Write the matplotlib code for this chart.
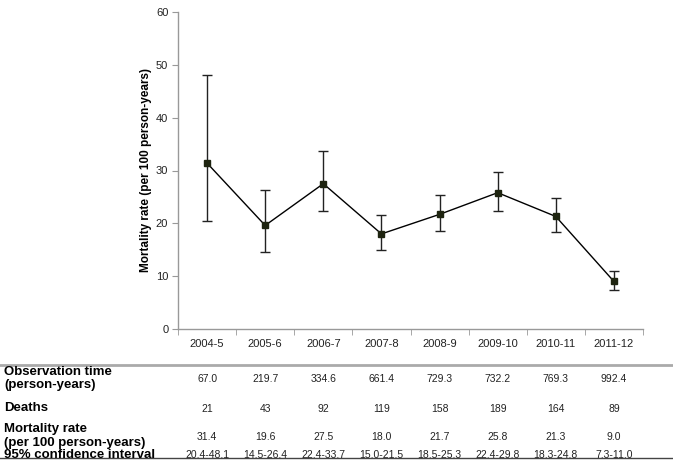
import matplotlib
matplotlib.use("Agg")
import matplotlib.pyplot as plt
import matplotlib.transforms as mtransforms

plt.rcParams['font.family'] = ['Liberation Sans', 'DejaVu Sans']

periods = ["2004-5", "2005-6", "2006-7", "2007-8", "2008-9", "2009-10", "2010-11", "2011-12"]
rate = [31.4, 19.6, 27.5, 18.0, 21.7, 25.8, 21.3, 9.0]
ci_low = [20.4, 14.5, 22.4, 15.0, 18.5, 22.4, 18.3, 7.3]
ci_high = [48.1, 26.4, 33.7, 21.5, 25.3, 29.8, 24.8, 11.0]
obs_time = ["67.0", "219.7", "334.6", "661.4", "729.3", "732.2", "769.3", "992.4"]
deaths = ["21", "43", "92", "119", "158", "189", "164", "89"]
rate_txt = ["31.4", "19.6", "27.5", "18.0", "21.7", "25.8", "21.3", "9.0"]
ci_txt = ["20.4-48.1", "14.5-26.4", "22.4-33.7", "15.0-21.5", "18.5-25.3", "22.4-29.8", "18.3-24.8", "7.3-11.0"]

W, H = 673, 466
fig = plt.figure(figsize=(W/100, H/100), dpi=100)
ax = fig.add_axes([178/W, 1-329/H, (643-178)/W, (329-12)/H])

x = list(range(len(periods)))
yerr = [[r - l for r, l in zip(rate, ci_low)], [h - r for r, h in zip(rate, ci_high)]]
ax.errorbar(x, rate, yerr=yerr, fmt='-s', color='black', ecolor='#222222',
            markerfacecolor='#1e2410', markeredgecolor='#1e2410', markersize=4.2,
            lw=1.0, elinewidth=1.0, capsize=3.5, capthick=1.0)

ax.set_xlim(-0.5, len(periods) - 0.5)
ax.set_ylim(0, 60)
ax.set_yticks(range(0, 61, 10))
ax.set_xticks(x)
ax.set_xticklabels(periods)
ax.set_xticks([i - 0.5 for i in range(len(periods) + 1)], minor=True)
ax.tick_params(axis='x', which='major', length=0, pad=7, labelsize=8, labelcolor='#222222')
ax.tick_params(axis='x', which='minor', length=4, color='#999999', direction='out')
ax.tick_params(axis='y', length=4, color='#999999', labelsize=8, labelcolor='#222222', pad=3)
for s in ['top', 'right']:
    ax.spines[s].set_visible(False)
for s in ['left', 'bottom']:
    ax.spines[s].set_color('#999999')
    ax.spines[s].set_linewidth(1.0)

ax.set_ylabel("Mortality rate (per 100 person-years)", fontsize=8.5, fontweight='bold', labelpad=3)

# table
trans = mtransforms.blended_transform_factory(ax.transData, fig.transFigure)
fig.add_artist(plt.Line2D([0, 1], [1-365/H, 1-365/H], transform=fig.transFigure, color='#aaaaaa', lw=2))
fig.add_artist(plt.Line2D([0, 1], [1-458/H, 1-458/H], transform=fig.transFigure, color='#444444', lw=1))

lab_fs = 9.5
val_fs = 7.5
def fy(py):
    return 1 - py/H

fig.text(4/W, fy(378.5), "Observation time\n(person-years)", fontsize=lab_fs, fontweight='bold',
         va='center', ha='left', linespacing=1.15)
fig.text(4/W, fy(408), "Deaths", fontsize=lab_fs, fontweight='bold', va='center', ha='left')
fig.text(4/W, fy(436), "Mortality rate\n(per 100 person-years)", fontsize=lab_fs, fontweight='bold',
         va='center', ha='left', linespacing=1.15)
fig.text(4/W, fy(455), "95% confidence interval", fontsize=lab_fs, fontweight='bold', va='center', ha='left')

for i in x:
    fig.text(i, fy(379), obs_time[i], transform=trans, fontsize=val_fs, ha='center', va='center', color='#222222')
    fig.text(i, fy(409), deaths[i], transform=trans, fontsize=val_fs, ha='center', va='center', color='#222222')
    fig.text(i, fy(437), rate_txt[i], transform=trans, fontsize=val_fs, ha='center', va='center', color='#222222')
    fig.text(i, fy(455), ci_txt[i], transform=trans, fontsize=val_fs, ha='center', va='center', color='#222222')

fig.savefig("out.png", dpi=100)
